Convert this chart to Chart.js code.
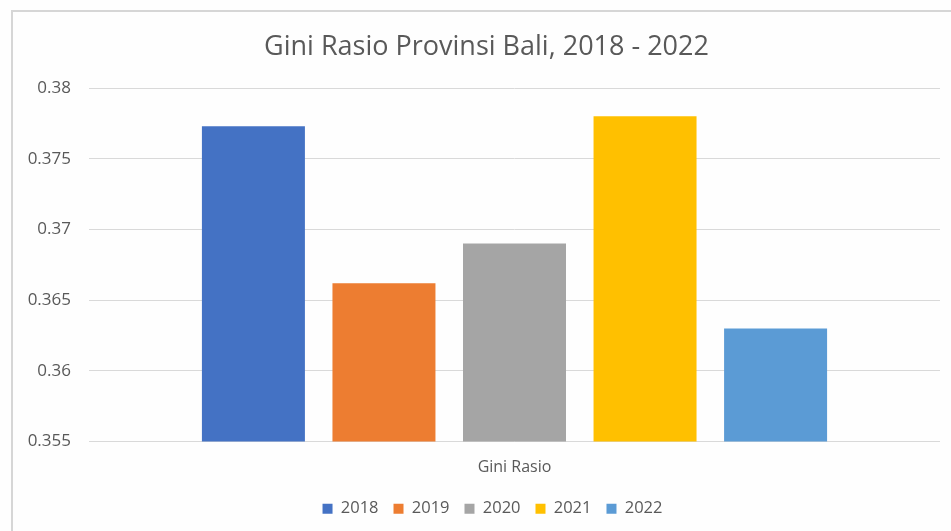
<!DOCTYPE html>
<html>
<head>
<meta charset="utf-8">
<script src="https://cdn.jsdelivr.net/npm/chart.js@4/dist/chart.umd.min.js"></script>
<style>
  html, body { margin: 0; padding: 0; background: #ffffff; }
  #wrap { position: relative; width: 951px; height: 531px; overflow: hidden; background: #fefefe; }
  #frame { position: absolute; left: 11px; top: 10px; width: 960px; height: 540px;
           border-top: 2px solid #d6d6d6; border-left: 2px solid #d6d6d6; box-sizing: border-box; }
  canvas { position: absolute; left: 0; top: 0; }
</style>
</head>
<body>
<div id="wrap">
  <div id="frame"></div>
  <canvas id="c" width="951" height="531"></canvas>
</div>
<script>
// ---- data ----
const categories = ["Gini Rasio"];
const seriesNames = ["2018", "2019", "2020", "2021", "2022"];
const seriesValues = [0.3773, 0.3662, 0.369, 0.378, 0.363];
const seriesColors = ["#4472C4", "#ED7D31", "#A5A5A5", "#FFC000", "#5B9BD5"];
const yTicks = { min: 0.355, max: 0.38, step: 0.005 };
const titleText = "Gini Rasio Provinsi Bali, 2018 - 2022";

const FONT = "'Open Sans', 'Segoe UI', sans-serif";
const TEXT = "#595959";

const datasets = seriesNames.map((name, i) => ({
  label: name,
  data: [seriesValues[i]],
  backgroundColor: seriesColors[i],
  borderWidth: 0,
  categoryPercentage: 0.767,
  barPercentage: 0.789
}));

// shift the legend and title boxes so they are centred like the reference
const boxShift = {
  id: "boxShift",
  afterLayout(chart) {
    const lg = chart.legend;
    if (lg) { lg.left += 45; lg.width -= 45; }
    const tb = chart.titleBlock;
    if (tb) { tb.left += 33; tb.width -= 33; }
  }
};

new Chart(document.getElementById("c"), {
  type: "bar",
  data: { labels: categories, datasets },
  plugins: [boxShift],
  options: {
    responsive: false,
    animation: false,
    layout: { padding: { left: 0, right: 11, top: 0, bottom: 4 } },
    plugins: {
      title: {
        display: true,
        text: titleText,
        color: TEXT,
        font: { family: FONT, size: 27, weight: "normal" },
        padding: { top: 31, bottom: 24.6 }
      },
      legend: {
        position: "bottom",
        labels: {
          color: TEXT,
          font: { family: FONT, size: 16.5 },
          boxWidth: 10,
          boxHeight: 10,
          padding: 15
        }
      },
      tooltip: { enabled: false }
    },
    scales: {
      x: {
        grid: { display: false },
        border: { display: false },
        ticks: { color: TEXT, font: { family: FONT, size: 16 }, padding: 8 },
        afterFit: s => { s.height = 44; }
      },
      y: {
        min: yTicks.min,
        max: yTicks.max,
        grid: { color: "#d9d9d9", lineWidth: 1, drawTicks: false },
        border: { display: false },
        ticks: {
          stepSize: yTicks.step,
          color: TEXT,
          font: { family: FONT, size: 17 },
          padding: 18,
          callback: v => String(Number(v.toFixed(3)))
        },
        afterFit: s => { s.width = 89; }
      }
    }
  }
});
</script>
</body>
</html>
